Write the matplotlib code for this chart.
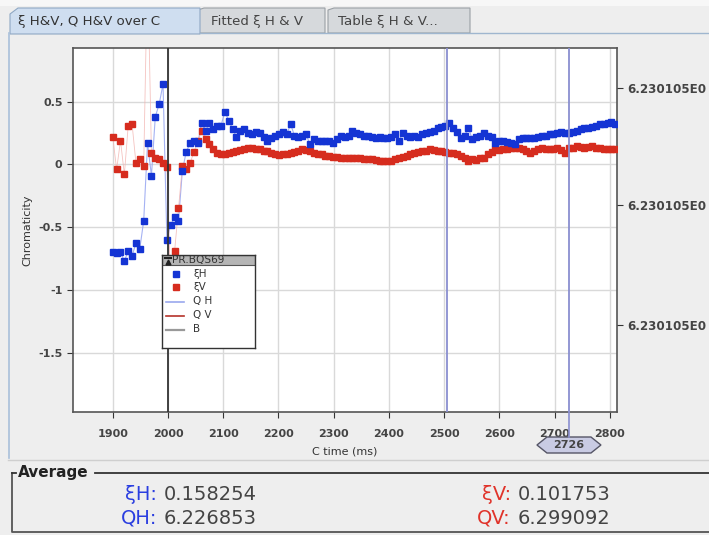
import numpy as np
import matplotlib
matplotlib.use("Agg")
import matplotlib.pyplot as plt
from matplotlib.patches import Polygon, Rectangle
from matplotlib.lines import Line2D

plt.rcParams['font.family'] = ['DejaVu Sans']

# ---------------- data ----------------
time_ms = [
    1900, 1907, 1914, 1921, 1928, 1935, 1942, 1949, 1956, 1963,
    1970, 1977, 1984, 1991, 1998, 2005, 2012, 2019, 2026, 2033,
    2040, 2047, 2054, 2061, 2068, 2075, 2082, 2089, 2096, 2103,
    2110, 2117, 2124, 2131, 2138, 2145, 2152, 2159, 2166, 2173,
    2180, 2187, 2194, 2201, 2208, 2215, 2222, 2229, 2236, 2243,
    2250, 2257, 2264, 2271, 2278, 2285, 2292, 2299, 2306, 2313,
    2320, 2327, 2334, 2341, 2348, 2355, 2362, 2369, 2376, 2383,
    2390, 2397, 2404, 2411, 2418, 2425, 2432, 2439, 2446, 2453,
    2460, 2467, 2474, 2481, 2488, 2495, 2502, 2509, 2516, 2523,
    2530, 2537, 2544, 2551, 2558, 2565, 2572, 2579, 2586, 2593,
    2600, 2607, 2614, 2621, 2628, 2635, 2642, 2649, 2656, 2663,
    2670, 2677, 2684, 2691, 2698, 2705, 2712, 2719, 2726, 2733,
    2740, 2747, 2754, 2761, 2768, 2775, 2782, 2789, 2796, 2803,
    2810,
]
xi_h = [
    -0.70, -0.705, -0.70, -0.77, -0.69, -0.73, -0.625, -0.67, -0.45, 0.17,
    -0.09, 0.38, 0.48, 0.64, -0.60, -0.48, -0.42, -0.45, -0.05, 0.10,
    0.17, 0.19, 0.17, 0.33, 0.27, 0.33, 0.28, 0.31, 0.31, 0.42,
    0.35, 0.28, 0.22, 0.27, 0.28, 0.25, 0.24, 0.26, 0.25, 0.22,
    0.19, 0.21, 0.23, 0.24, 0.26, 0.24, 0.32, 0.23, 0.22, 0.23,
    0.24, 0.16, 0.20, 0.19, 0.19, 0.19, 0.19, 0.17, 0.20, 0.23,
    0.22, 0.23, 0.27, 0.25, 0.24, 0.23, 0.23, 0.22, 0.21, 0.22,
    0.21, 0.21, 0.22, 0.24, 0.19, 0.25, 0.23, 0.22, 0.23, 0.22,
    0.24, 0.25, 0.26, 0.27, 0.29, 0.30, 0.31, 0.33, 0.29, 0.26,
    0.21, 0.23, 0.29, 0.20, 0.22, 0.23, 0.25, 0.23, 0.22, 0.17,
    0.19, 0.19, 0.18, 0.17, 0.16, 0.20, 0.21, 0.21, 0.21, 0.21,
    0.22, 0.23, 0.23, 0.24, 0.24, 0.25, 0.26, 0.25, 0.25, 0.26,
    0.27, 0.28, 0.29, 0.29, 0.30, 0.31, 0.32, 0.32, 0.33, 0.34,
    0.32,
]
xi_v = [
    0.22, -0.04, 0.19, -0.08, 0.31, 0.32, 0.01, 0.045, -0.01, 1.60,
    0.095, 0.05, 0.04, 0.01, -0.02, -1.00, -0.69, -0.35, -0.015, -0.04,
    0.01, 0.10, 0.185, 0.27, 0.20, 0.16, 0.12, 0.095, 0.085, 0.085,
    0.09, 0.10, 0.11, 0.115, 0.12, 0.13, 0.13, 0.125, 0.12, 0.11,
    0.105, 0.09, 0.08, 0.075, 0.08, 0.085, 0.09, 0.10, 0.11, 0.12,
    0.115, 0.105, 0.095, 0.085, 0.08, 0.07, 0.065, 0.06, 0.06, 0.055,
    0.05, 0.055, 0.05, 0.055, 0.05, 0.045, 0.04, 0.04, 0.035, 0.03,
    0.025, 0.025, 0.03, 0.04, 0.05, 0.06, 0.07, 0.08, 0.09, 0.10,
    0.105, 0.11, 0.12, 0.115, 0.11, 0.105, 0.10, 0.095, 0.09, 0.08,
    0.065, 0.05, 0.03, 0.045, 0.035, 0.05, 0.055, 0.08, 0.10, 0.12,
    0.115, 0.12, 0.125, 0.13, 0.135, 0.13, 0.12, 0.105, 0.095, 0.11,
    0.12, 0.13, 0.125, 0.12, 0.125, 0.13, 0.115, 0.095, 0.13, 0.135,
    0.145, 0.14, 0.13, 0.14, 0.145, 0.135, 0.13, 0.12, 0.12, 0.12,
    0.12,
]
x_ticks = [1900, 2000, 2100, 2200, 2300, 2400, 2500, 2600, 2700, 2800]
y_ticks = [0.5, 0, -0.5, -1, -1.5]
y_tick_labels = ["0.5", "0", "-0.5", "-1", "-1.5"]
right_tick_pos = [0.606, -0.327, -1.276]
right_tick_labels = ["6.230105E0", "6.230105E0", "6.230105E0"]
b_marker = 2000
cursor_lines = [2505, 2726]
cursor_label = "2726"
tab_labels = ["ξ H&V, Q H&V over C", "Fitted ξ H & V", "Table ξ H & V..."]
avg_xi_h, avg_q_h = "0.158254", "6.226853"
avg_xi_v, avg_q_v = "0.101753", "6.299092"

# ---------------- figure ----------------
W, H = 709, 535
fig = plt.figure(figsize=(W / 100, H / 100), dpi=100, facecolor="#eeeeee")


def fx(x):
    return x / W


def fy(y):
    return 1 - y / H


def poly(pts, **kw):
    p = Polygon([(fx(a), fy(b)) for a, b in pts], closed=True,
                transform=fig.transFigure, **kw)
    fig.add_artist(p)
    return p


def hline(x0, x1, y, **kw):
    fig.add_artist(Line2D([fx(x0), fx(x1)], [fy(y), fy(y)],
                          transform=fig.transFigure, **kw))


def vline(x, y0, y1, **kw):
    fig.add_artist(Line2D([fx(x), fx(x)], [fy(y0), fy(y1)],
                          transform=fig.transFigure, **kw))


# top strip
poly([(0, 0), (W, 0), (W, 6), (0, 6)], facecolor="#f7f7f7", edgecolor="none")
# tabs
poly([(198, 33), (198, 10), (204, 8), (325, 8), (325, 33)],
     facecolor="#d6d9dc", edgecolor="#9aa0a6", lw=0.8)
poly([(328, 33), (328, 10), (334, 8), (470, 8), (470, 33)],
     facecolor="#d6d9dc", edgecolor="#9aa0a6", lw=0.8)
poly([(10, 34), (10, 14), (18, 8), (200, 8), (200, 34)],
     facecolor="#cfdef0", edgecolor="#8fa8c4", lw=0.8)
fig.text(fx(18), fy(21), tab_labels[0], fontsize=9.6, color="#333333",
         va="center", ha="left")
fig.text(fx(211), fy(21), tab_labels[1], fontsize=9.6, color="#444444",
         va="center", ha="left")
fig.text(fx(338), fy(21), tab_labels[2], fontsize=9.6, color="#444444",
         va="center", ha="left")
hline(200, W, 33, color="#9fb6cf", lw=1.0)
vline(8.5, 33, 458, color="#a9c0da", lw=1.2)

# ---------------- main axes ----------------
L, R, T, B = 73, 617, 48, 412
ax = fig.add_axes([fx(L), fy(B), fx(R - L), (B - T) / H])
ax.set_facecolor("white")
ax.set_xlim(1828, 2813)
ax.set_ylim(-1.973, 0.928)

ax.set_xticks(x_ticks)
ax.set_yticks(y_ticks)
ax.set_yticklabels(y_tick_labels)
ax.grid(True, color="#d9d9d9", lw=1.0, zorder=0)
ax.tick_params(axis="both", labelsize=8, colors="#333333", length=4,
               width=0.8, direction="out")
ax.tick_params(axis="x", pad=8)
for lab in ax.get_xticklabels() + ax.get_yticklabels():
    lab.set_fontweight("bold")
    lab.set_color("#444444")
for s in ax.spines.values():
    s.set_color("#555555")
    s.set_linewidth(1.2)
ax.set_xlabel("C time (ms)", fontsize=8, color="#333333", labelpad=6)
ax.set_ylabel("Chromaticity", fontsize=8, color="#333333", labelpad=4)

# thin connecting lines (Q traces look)
ax.plot(time_ms, xi_h, color="#8f9ff0", lw=0.8, alpha=0.8, zorder=2)
ax.plot(time_ms, xi_v, color="#f2b4b0", lw=0.6, alpha=0.8, zorder=2)
# markers
ax.plot(time_ms, xi_h, ls="none", marker="s", ms=4.6, color="#1434d4",
        mec="#1434d4", zorder=4)
ax.plot(time_ms, xi_v, ls="none", marker="s", ms=4.6, color="#d62c1e",
        mec="#d62c1e", zorder=3)

# vertical lines
ax.axvline(b_marker, color="#333333", lw=1.3, zorder=5)
for c in cursor_lines:
    ax.axvline(c, color="#8a8fd0", lw=1.3, zorder=5)

# right axis
ax2 = ax.twinx()
ax2.set_ylim(ax.get_ylim())
ax2.set_yticks(right_tick_pos)
ax2.set_yticklabels(right_tick_labels)
ax2.tick_params(axis="y", labelsize=8.6, colors="#333333", length=4,
                width=0.8)
for lab in ax2.get_yticklabels():
    lab.set_fontweight("bold")
    lab.set_color("#444444")
for s in ax2.spines.values():
    s.set_visible(False)

# cursor marker below axis
hx = ax.transData.transform((cursor_lines[1], 0))[0]
vline(hx, B, 437, color="#8a8fd0", lw=1.2)
poly([(hx - 32, 445), (hx - 22, 437), (hx + 22, 437), (hx + 32, 445),
      (hx + 22, 453), (hx - 22, 453)],
     facecolor="#c9cbe3", edgecolor="#555566", lw=1.0)
fig.text(fx(hx), fy(445.5), cursor_label, fontsize=8, color="#444444",
         ha="center", va="center", fontweight="bold")

# ---------------- legend (manual box) ----------------
lg = fig.add_axes([fx(162), fy(348), fx(255 - 162), (348 - 255) / H])
lg.set_xlim(0, 93)
lg.set_ylim(93, 0)
lg.set_xticks([])
lg.set_yticks([])
lg.set_facecolor("white")
lg.set_zorder(10)
for s in lg.spines.values():
    s.set_color("#333333")
    s.set_linewidth(1.0)
lg.add_patch(Rectangle((0, 0), 93, 10, facecolor="#b5b5b5",
                       edgecolor="#555555", lw=0.8))
lg.text(10, 5.5, "PR.BQS69", fontsize=7.6, color="#333333", va="center",
        ha="left")
lg.plot([3, 9], [2.5, 2.5], color="#222222", lw=1.5)
lg.plot([6], [6.5], marker="^", ms=3.5, color="#222222")
lg.plot([14], [19], marker="s", ms=4.4, color="#1434d4", ls="none")
lg.plot([14], [32], marker="s", ms=4.4, color="#d62c1e", ls="none")
lg.plot([4, 22], [47, 47], color="#9aa8ee", lw=1.2)
lg.plot([4, 22], [61, 61], color="#b5322a", lw=1.2)
lg.plot([4, 22], [75, 75], color="#999999", lw=1.6)
for yy, t in [(19, "ξH"), (32, "ξV"), (46, "Q H"), (60, "Q V"), (74, "B")]:
    lg.text(31, yy, t, fontsize=7.4, color="#333333", va="center", ha="left")

# ---------------- bottom panel ----------------
hline(8, W, 460, color="#cfcfcf", lw=1.0)
# Average group box
fig.add_artist(Line2D([fx(95), fx(W)], [fy(473), fy(473)],
                      transform=fig.transFigure, color="#333333", lw=1.3))
fig.add_artist(Line2D([fx(12), fx(12), fx(W)], [fy(473), fy(532), fy(532)],
                      transform=fig.transFigure, color="#555555", lw=1.3))
hline(12, 16, 473, color="#333333", lw=1.3)
fig.text(fx(18), fy(472), "Average", fontsize=11, fontweight="bold",
         color="#222222", va="center", ha="left")

blue_t = "#2a3ee0"
red_t = "#e0332a"
val_c = "#444444"
fs = 14
fig.text(fx(157), fy(495), "ξH:", fontsize=fs, color=blue_t, ha="right",
         va="center")
fig.text(fx(164), fy(495), avg_xi_h, fontsize=fs, color=val_c, ha="left",
         va="center")
fig.text(fx(157), fy(518), "QH:", fontsize=fs, color=blue_t, ha="right",
         va="center")
fig.text(fx(164), fy(518), avg_q_h, fontsize=fs, color=val_c, ha="left",
         va="center")
fig.text(fx(511), fy(495), "ξV:", fontsize=fs, color=red_t, ha="right",
         va="center")
fig.text(fx(518), fy(495), avg_xi_v, fontsize=fs, color=val_c, ha="left",
         va="center")
fig.text(fx(511), fy(518), "QV:", fontsize=fs, color=red_t, ha="right",
         va="center")
fig.text(fx(518), fy(518), avg_q_v, fontsize=fs, color=val_c, ha="left",
         va="center")

fig.savefig("out.png", dpi=100, facecolor=fig.get_facecolor())
